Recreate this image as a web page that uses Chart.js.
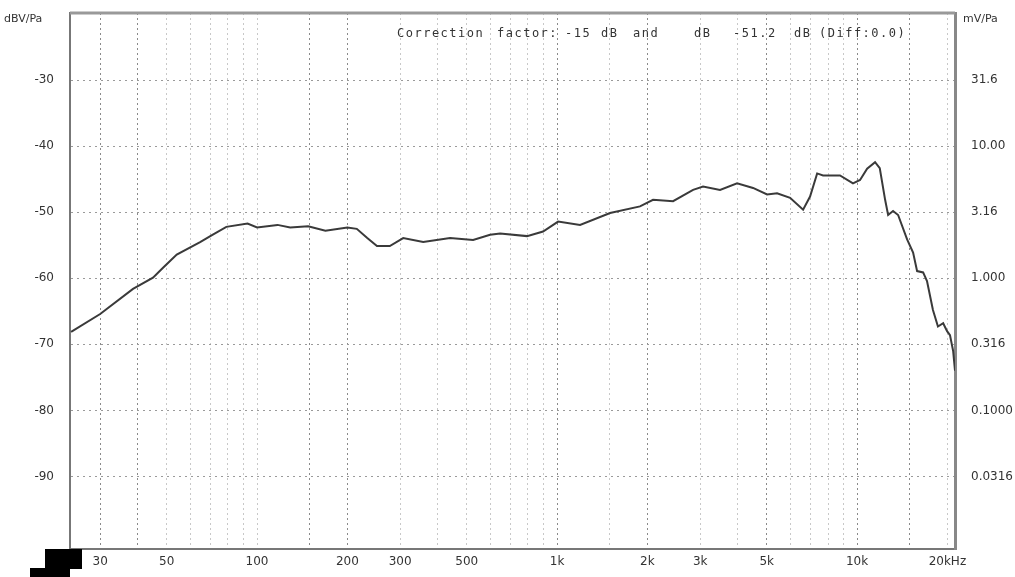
<!DOCTYPE html>
<html>
<head>
<meta charset="utf-8">
<script src="https://cdn.jsdelivr.net/npm/chart.js@4/dist/chart.umd.min.js"></script>
<style>
  body { margin: 0; background: #fff; }
  #wrap { width: 1015px; height: 577px; }
</style>
</head>
<body>
<div id="wrap"><canvas id="myChart" width="1015" height="577"></canvas></div>
<script>
// response curve
const freqHz = [24, 30, 38.6, 45, 48.6, 54, 64.6, 71, 79, 93, 100, 117, 129, 148, 169, 200, 215, 233, 251, 277,
  307, 358, 440, 525, 598, 646, 794, 898, 1008, 1193, 1502, 1890, 2089, 2436, 2840, 3066, 3493, 3981, 4500,
  5012, 5412, 5980, 6607, 6970, 7360, 7700, 8770, 9690, 10230, 10800, 11480, 11900, 12400, 12690, 13180,
  13700, 14680, 15370, 15850, 16600, 17100, 17900, 18600, 19360, 19950, 20400, 20900, 21200];
const levelDb = [-68.1, -65.4, -61.6, -59.9, -58.4, -56.4, -54.5, -53.4, -52.2, -51.7, -52.3, -51.9, -52.3, -52.1, -52.8, -52.3, -52.5, -53.9, -55.1, -55.1,
  -53.9, -54.5, -53.9, -54.2, -53.4, -53.2, -53.6, -52.9, -51.4, -51.9, -50.1, -49.1, -48.1, -48.3, -46.6, -46.1, -46.6, -45.6, -46.3,
  -47.3, -47.1, -47.8, -49.6, -47.6, -44.1, -44.4, -44.4, -45.6, -45.1, -43.4, -42.4, -43.3, -48.1, -50.4, -49.8,
  -50.4, -54.1, -56.1, -58.9, -59.1, -60.4, -64.8, -67.3, -66.8, -68.0, -68.6, -71, -74];

const dbTicks = [-30, -40, -50, -60, -70, -80, -90];
const mvLabels = ["31.6", "10.00", "3.16", "1.000", "0.316", "0.1000", "0.0316"];

const gridFreqs = [30, 40, 50, 60, 70, 80, 90, 100, 150, 200, 300, 400, 500, 600, 700, 800, 900,
  1000, 1500, 2000, 3000, 4000, 5000, 6000, 7000, 8000, 9000, 10000, 15000, 20000];
const darkFreqs = [30, 40, 150, 200, 1000, 2000, 5000, 10000, 15000];
const labelFreqs = [30, 50, 100, 200, 300, 500, 1000, 2000, 3000, 5000, 10000, 20000];
const freqLabels = ["30", "50", "100", "200", "300", "500", "1k", "2k", "3k", "5k", "10k", "20kHz"];

const note = [["Correction", 397], ["factor:", 497], ["-15", 565], ["dB", 601], ["and", 633],
  ["dB", 694], ["-51.2", 733], ["dB", 794], ["(Diff:0.0)", 819]];

const txt = "#333";
const font = { family: "DejaVu Sans", size: 12 };

const noPad = (axis) => { axis.paddingTop = 0; axis.paddingBottom = 0; };

const extras = {
  id: "extras",
  afterDraw(chart) {
    const c = chart.ctx, a = chart.chartArea;
    c.save();
    // top frame
    c.strokeStyle = "#999";
    c.lineWidth = 3;
    c.beginPath();
    c.moveTo(a.left, a.top);
    c.lineTo(a.right, a.top);
    c.stroke();
    // unit labels
    c.fillStyle = txt;
    c.font = "11px DejaVu Sans";
    c.textBaseline = "middle";
    c.textAlign = "left";
    c.fillText("dBV/Pa", 4, 19);
    c.fillText("mV/Pa", 963, 19);
    // correction note
    c.font = "12px DejaVu Sans Mono";
    c.letterSpacing = "1.5px";
    note.forEach(([s, x]) => c.fillText(s, x, 34));
    c.letterSpacing = "0px";
    // scan blot bottom-left
    c.fillStyle = "#000";
    c.fillRect(45, 549, 37, 20);
    c.fillRect(30, 568, 40, 9);
    c.restore();
  }
};

const ctx = document.getElementById("myChart").getContext("2d");

new Chart(ctx, {
  type: "line",
  data: {
    datasets: [{
      data: freqHz.map((f, i) => ({ x: f, y: levelDb[i] })),
      borderColor: "#3a3a3a",
      borderWidth: 2,
      pointRadius: 0,
      tension: 0,
      fill: false
    }]
  },
  options: {
    responsive: false,
    animation: false,
    layout: { padding: { top: 13 } },
    plugins: { legend: { display: false }, tooltip: { enabled: false } },
    scales: {
      x: {
        type: "logarithmic",
        min: 23.8,
        max: 21200,
        afterBuildTicks: (axis) => { axis.ticks = gridFreqs.map(v => ({ value: v })); },
        afterFit: (axis) => { axis.height = 28; axis.paddingLeft = 0; axis.paddingRight = 0; },
        ticks: {
          autoSkip: false,
          maxRotation: 0,
          padding: 6,
          color: txt,
          font: font,
          callback: (v) => {
            const i = labelFreqs.indexOf(v);
            return i >= 0 ? freqLabels[i] : "";
          }
        },
        grid: {
          drawTicks: false,
          color: (c) => darkFreqs.includes(c.tick && c.tick.value) ? "#8a8a8a" : "#c8c8c8",
          lineWidth: 1,
          dash: [2, 3]
        },
        border: { color: "#777", width: 2, dash: [2, 3] }
      },
      y: {
        position: "left",
        min: -101,
        max: -19.8,
        afterBuildTicks: (axis) => { axis.ticks = dbTicks.map(v => ({ value: v })); },
        afterFit: (axis) => { axis.width = 70; noPad(axis); },
        ticks: { color: txt, font: font, padding: 16 },
        grid: { drawTicks: false, color: "#9a9a9a", lineWidth: 1, dash: [2, 3] },
        border: { color: "#777", width: 2, dash: [2, 4] }
      },
      y2: {
        position: "right",
        min: -101,
        max: -19.8,
        afterBuildTicks: (axis) => { axis.ticks = dbTicks.map(v => ({ value: v })); },
        afterFit: (axis) => { axis.width = 60; noPad(axis); },
        ticks: {
          color: txt,
          font: font,
          padding: 16,
          callback: (v) => mvLabels[dbTicks.indexOf(v)]
        },
        grid: { drawOnChartArea: false, drawTicks: false },
        border: { color: "#888", width: 3 }
      }
    }
  },
  plugins: [extras]
});
</script>
</body>
</html>
